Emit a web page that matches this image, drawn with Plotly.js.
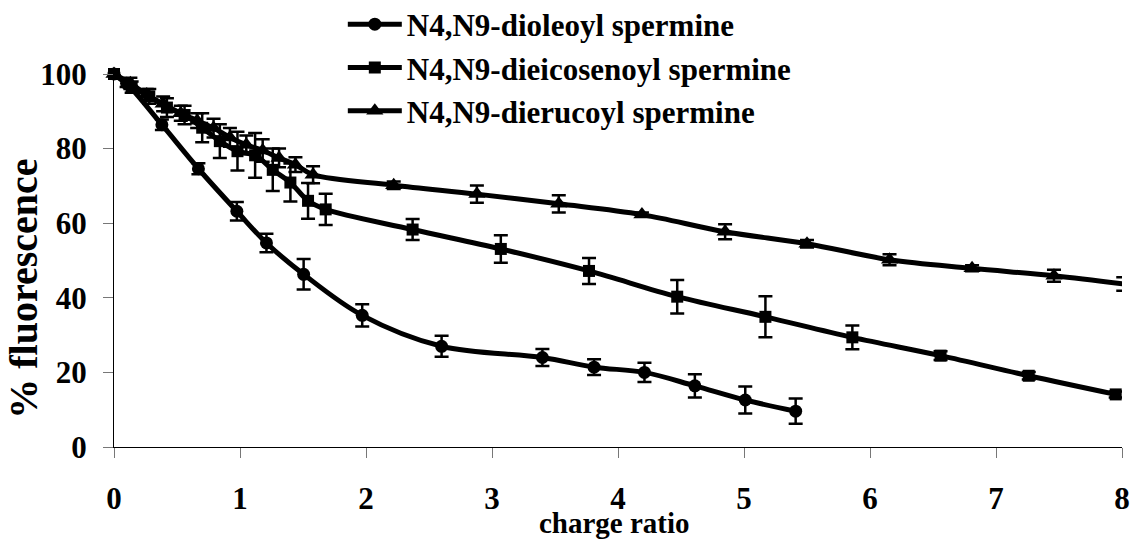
<!DOCTYPE html>
<html>
<head>
<meta charset="utf-8">
<script src="https://cdn.plot.ly/plotly-3.0.1.min.js"></script>
<style>html,body{margin:0;padding:0;background:#fff;}#chart{width:1132px;height:540px;}</style>
</head>
<body>
<div id="chart"></div>
<script>
// ---- data ----
var seriesNames = ["N4,N9-dioleoyl spermine", "N4,N9-dieicosenoyl spermine", "N4,N9-dierucoyl spermine"];

var dioleoylX   = [0, 0.1, 0.38, 0.67, 0.975, 1.21, 1.505, 1.97, 2.60, 3.40, 3.81, 4.21, 4.61, 5.01, 5.41];
var dioleoylY   = [100, 97.5, 86.4, 74.6, 63.2, 54.7, 46.3, 35.3, 27.0, 24.0, 21.4, 20.0, 16.4, 12.6, 9.6];
var dioleoylErr = [0.5, 1.0, 1.4, 1.5, 2.5, 2.5, 4.1, 3.0, 2.8, 2.3, 2.1, 2.6, 3.1, 3.6, 3.4];

var eicosX   = [0, 0.14, 0.28, 0.42, 0.56, 0.70, 0.84, 0.98, 1.12, 1.26, 1.40, 1.54, 1.68, 2.37, 3.07, 3.77, 4.47, 5.17, 5.86, 6.56, 7.26, 7.95];
var eicosY   = [100, 96.5, 94.0, 91.0, 89.0, 85.6, 82.0, 79.3, 78.2, 74.3, 70.9, 66.0, 63.7, 58.3, 53.1, 47.2, 40.3, 34.9, 29.4, 24.5, 19.1, 14.1];
var eicosErr = [0.5, 1.5, 2.0, 2.5, 2.5, 3.9, 4.5, 5.2, 6.0, 5.7, 5.1, 4.8, 4.2, 2.8, 3.7, 3.5, 4.5, 5.5, 3.2, 1.2, 1.0, 0.8];

var erucX   = [0, 0.13, 0.26, 0.39, 0.53, 0.66, 0.79, 0.92, 1.05, 1.18, 1.31, 1.44, 1.58, 2.22, 2.88, 3.53, 4.19, 4.85, 5.50, 6.155, 6.81, 7.46, 8.01];
var erucY   = [100, 97.5, 94.5, 92.0, 89.5, 87.5, 85.5, 83.0, 81.0, 79.5, 77.5, 75.7, 73.0, 70.2, 67.8, 65.2, 62.3, 57.7, 54.5, 50.2, 47.9, 45.9, 43.7];
var erucErr = [0.5, 1.5, 1.5, 2.0, 2.0, 2.0, 2.5, 2.5, 2.5, 3.0, 2.5, 2.0, 2.3, 1.0, 2.3, 2.3, 0.6, 2.0, 1.0, 1.5, 0.8, 1.6, 1.8];

var xTickVals = [0, 1, 2, 3, 4, 5, 6, 7, 8];
var yTickVals = [0, 20, 40, 60, 80, 100];
var xTitle = "charge ratio";
var yTitle = "% fluorescence";

// ---- chart ----
var FONT = "Liberation Serif, Times New Roman, serif";
function mk(x, y, e, name, symbol, size) {
  return {
    type: "scatter", mode: "lines+markers", name: name,
    x: x, y: y, cliponaxis: false,
    line: {color: "#000", width: 5, shape: "spline", smoothing: 1},
    marker: {color: "#000", size: size, symbol: symbol},
    error_y: {type: "data", array: e, visible: true, color: "#000", thickness: 2.5, width: 7}
  };
}
var data = [
  mk(dioleoylX, dioleoylY, dioleoylErr, seriesNames[0], "circle", 13),
  mk(eicosX, eicosY, eicosErr, seriesNames[1], "square", 12),
  mk(erucX, erucY, erucErr, seriesNames[2], "triangle-up", 15)
];

var axisCommon = {
  showline: true, linecolor: "#000", linewidth: 1,
  ticks: "outside", ticklen: 10, tickcolor: "#777", tickwidth: 1,
  showgrid: false, zeroline: false, fixedrange: true,
  tickfont: {family: FONT, size: 31, color: "#000", weight: "bold"}
};

var layout = {
  width: 1132, height: 540,
  paper_bgcolor: "#fff", plot_bgcolor: "#fff",
  margin: {l: 114, r: 10, t: 74, b: 93, autoexpand: false},
  showlegend: true,
  legend: {
    x: 0.227, xanchor: "left", y: 1.205, yanchor: "top",
    font: {family: FONT, size: 31, color: "#000", weight: "bold"},
    bgcolor: "rgba(0,0,0,0)", borderwidth: 0, itemwidth: 54
  },
  xaxis: Object.assign({}, axisCommon, {range: [0, 8], tickvals: xTickVals, ticklabelstandoff: 14}),
  yaxis: Object.assign({}, axisCommon, {range: [0, 100], tickvals: yTickVals, ticklabelstandoff: 10}),
  annotations: [
    {text: xTitle, xref: "paper", yref: "paper", x: 0.497, y: -0.252, xanchor: "center", yanchor: "bottom",
     showarrow: false, font: {family: FONT, size: 29, color: "#000", weight: "bold"}},
    {text: yTitle, xref: "paper", yref: "paper", x: -0.09, y: 0.425, xanchor: "center", yanchor: "middle",
     textangle: -90, showarrow: false, font: {family: FONT, size: 40, color: "#000", weight: "bold"}}
  ]
};

Plotly.newPlot("chart", data, layout, {displayModeBar: false, staticPlot: true});
</script>
</body>
</html>
